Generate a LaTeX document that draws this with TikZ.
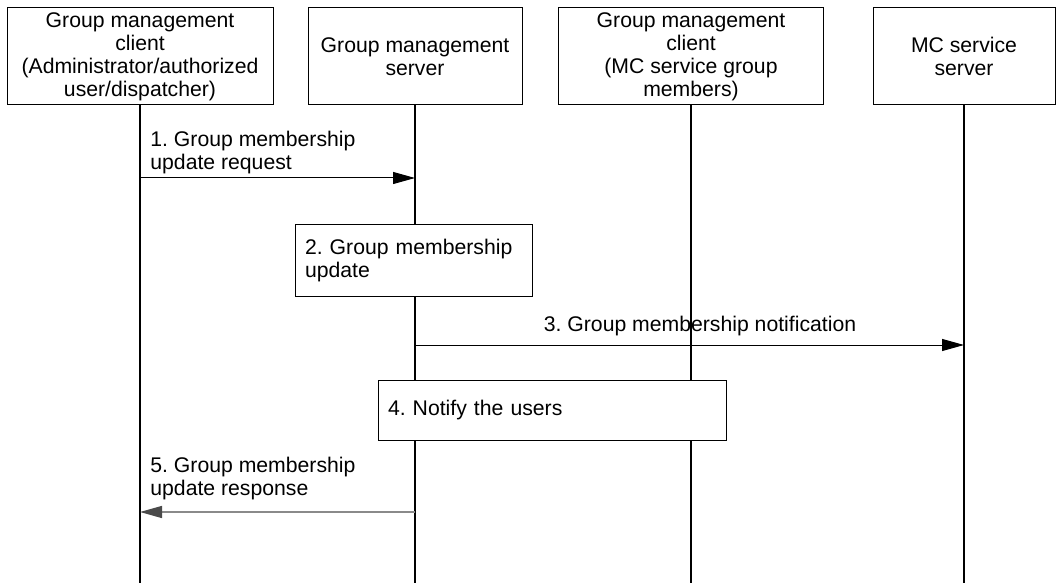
\documentclass[tikz,border=0pt]{standalone}
\usepackage{fontspec}
\setmainfont{Liberation Sans}
\usetikzlibrary{arrows.meta,positioning}
\definecolor{Ink}{HTML}{000000}
\definecolor{RespGray}{HTML}{8A8A8A}
\definecolor{RespHead}{HTML}{4A4A4A}
\frenchspacing

\tikzset{
  headbox/.style={draw=Ink,line width=0.5pt,fill=white,inner sep=0pt,align=center,minimum height=48.5pt},
  procbox/.style={draw=Ink,line width=0.5pt,fill=white,inner xsep=5pt,inner ysep=0pt,align=left},
  lifeline/.style={draw=Ink,line width=0.6pt},
  msg/.style={draw=Ink,line width=0.5pt,-{Triangle[length=11pt,width=6pt]}},
  resp/.style={draw=RespGray,line width=0.7pt,-{Triangle[length=11pt,width=6pt,color=RespHead]}},
  lbl/.style={inner sep=0pt,align=left}
}

\begin{document}
\begin{tikzpicture}[x=0.5pt,y=-0.5pt,every node/.style={font=\fontsize{10.6}{11.5}\selectfont}]
    \useasboundingbox[fill=white] (0,0) rectangle (1056,583);

    % participants
    \foreach \n/\x/\w/\txt in {
        admin/140/133pt/{Group management\\client\\(Administrator/authorized\\user/dispatcher)},
        gms/415/107pt/{Group management\\server},
        member/691/132.5pt/{Group management\\client\\(MC service group\\members)},
        mcs/964/91pt/{MC service\\server}} {
      \node[headbox,minimum width=\w] (\n) at (\x,56.5) {\txt};
      \coordinate (\n-end) at (\n.south |- 0,583);
      \draw[lifeline] (\n.south) -- (\n-end);
    }

    % 1. request
    \coordinate (m1a) at (admin.south |- 0,178);
    \coordinate (m1b) at (gms.south |- 0,178);
    \draw[msg] (m1a) -- (m1b);
    \node[lbl,anchor=west] (l1) at (150,153) {1. Group membership\\update request};

    % 2. local update at the server
    \node[procbox,text width=108.5pt,minimum height=35.5pt] (upd) at (413.5,260.5)
      {2. Group membership\\update};

    % 3. notification
    \coordinate (m3a) at (gms.south |- 0,345);
    \coordinate (m3b) at (mcs.south |- 0,345);
    \draw[msg] (m3a) -- (m3b);
    \node[lbl,anchor=center] (l3) at (700,326) {3. Group membership notification};

    % 4. notify
    \node[procbox,text width=164pt,minimum height=30pt] (notify) at (552,410)
      {4. Notify the users};

    % 5. response
    \coordinate (m5a) at (gms.south |- 0,512);
    \coordinate (m5b) at (admin.south |- 0,512);
    \draw[resp] (m5a) -- (m5b);
    \node[lbl,anchor=west] (l5) at (150,479) {5. Group membership\\update response};
  \end{tikzpicture}
\end{document}
